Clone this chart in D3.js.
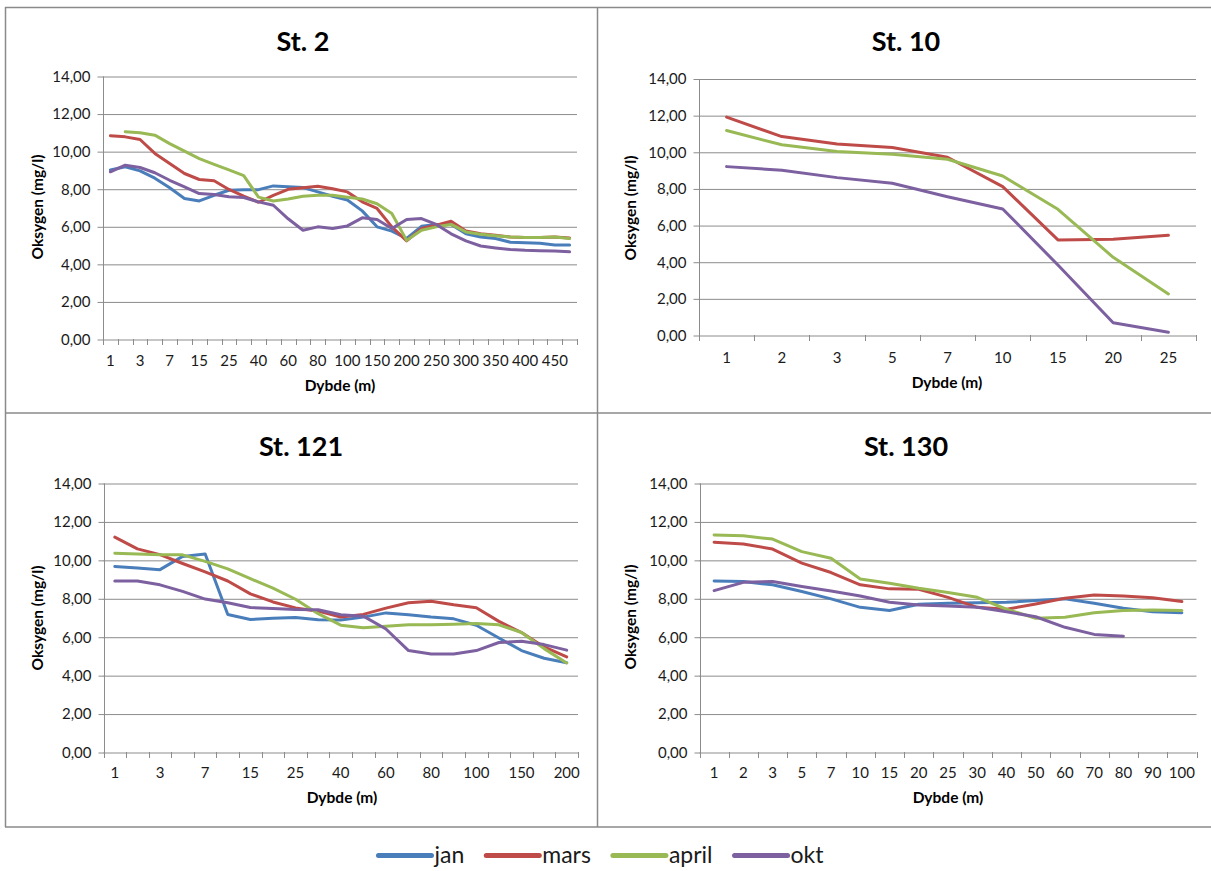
<!DOCTYPE html>
<html><head><meta charset="utf-8">
<script src="https://cdn.jsdelivr.net/npm/d3@7"></script>
<style>
body{margin:0;background:#fff}
svg{display:block}
text{font-family:Lato,"Open Sans",sans-serif}
</style>
</head><body>
<svg id="c" width="1211" height="871"></svg>
<script>
// ---------- data ----------
const seriesNames = ["jan", "mars", "april", "okt"];
const seriesColors = ["#4A7EBB", "#BE4B48", "#98B954", "#7D60A0"];
const yTickValues = [0, 2, 4, 6, 8, 10, 12, 14];

const st2Depths = ["1","2","3","5","7","10","15","20","25","30","40","50","60","70","80","90","100","125","150","175","200","225","250","275","300","325","350","375","400","425","450","475"];
const st2Jan   = [9.0, 9.17, 8.95, 8.56, 8.05, 7.48, 7.35, 7.65, 7.92, 7.95, 7.95, 8.15, 8.1, 8.06, 7.83, 7.6, 7.4, 6.82, 5.97, 5.74, 5.35, 6.0, 6.1, 6.1, 5.6, 5.43, 5.35, 5.15, 5.13, 5.1, 5.0, 5.0];
const st2Mars  = [10.82, 10.76, 10.62, 9.88, 9.34, 8.81, 8.49, 8.42, 7.96, 7.6, 7.28, 7.65, 7.97, 8.05, 8.13, 8.0, 7.83, 7.3, 6.95, 5.97, 5.22, 5.88, 6.06, 6.27, 5.75, 5.6, 5.52, 5.43, 5.4, 5.4, 5.43, 5.38];
const st2April = [null, 11.03, 10.98, 10.85, 10.4, 10.0, 9.6, 9.3, 9.0, 8.7, 7.55, 7.35, 7.45, 7.6, 7.65, 7.65, 7.55, 7.45, 7.2, 6.68, 5.25, 5.79, 5.97, 6.1, 5.7, 5.58, 5.5, 5.43, 5.4, 5.4, 5.43, 5.35];
const st2Okt   = [8.9, 9.25, 9.13, 8.85, 8.45, 8.1, 7.74, 7.69, 7.57, 7.53, 7.3, 7.12, 6.4, 5.79, 5.97, 5.88, 6.02, 6.45, 6.36, 5.88, 6.36, 6.41, 6.1, 5.6, 5.22, 4.95, 4.85, 4.76, 4.72, 4.7, 4.68, 4.64];

const st10Depths = ["1","2","3","5","7","10","15","20","25"];
const st10Mars  = [11.89, 10.83, 10.43, 10.23, 9.7, 8.1, 5.19, 5.22, 5.44];
const st10April = [11.16, 10.38, 10.01, 9.87, 9.59, 8.68, 6.86, 4.24, 2.24];
const st10Okt   = [9.19, 8.99, 8.59, 8.28, 7.55, 6.88, 3.82, 0.67, 0.15];

const st121Depths = ["1","2","3","5","7","10","15","20","25","30","40","50","60","70","80","90","100","125","150","175","200"];
const st121Jan   = [9.66, 9.58, 9.49, 10.18, 10.3, 7.16, 6.9, 6.96, 7.0, 6.88, 6.87, 7.02, 7.24, 7.14, 7.02, 6.93, 6.6, 5.93, 5.28, 4.88, 4.65];
const st121Mars  = [11.18, 10.57, 10.27, 9.81, 9.37, 8.9, 8.23, 7.81, 7.5, 7.33, 7.03, 7.16, 7.49, 7.77, 7.85, 7.66, 7.51, 6.8, 6.22, 5.47, 4.95];
const st121April = [10.34, 10.3, 10.26, 10.26, 9.92, 9.53, 9.02, 8.53, 7.95, 7.2, 6.6, 6.47, 6.55, 6.62, 6.62, 6.65, 6.69, 6.62, 6.22, 5.38, 4.63];
const st121Okt   = [8.9, 8.9, 8.7, 8.36, 7.96, 7.77, 7.52, 7.47, 7.42, 7.4, 7.14, 7.07, 6.4, 5.28, 5.1, 5.1, 5.28, 5.7, 5.76, 5.59, 5.3];

const st130Depths = ["1","2","3","5","7","10","15","20","25","30","40","50","60","70","80","90","100"];
const st130Jan   = [8.9, 8.87, 8.7, 8.35, 7.97, 7.53, 7.36, 7.69, 7.74, 7.77, 7.79, 7.88, 7.97, 7.74, 7.48, 7.3, 7.25];
const st130Mars  = [10.92, 10.83, 10.56, 9.83, 9.34, 8.7, 8.49, 8.47, 8.05, 7.53, 7.43, 7.7, 8.0, 8.17, 8.12, 8.03, 7.83];
const st130April = [11.3, 11.25, 11.08, 10.43, 10.08, 9.0, 8.78, 8.52, 8.3, 8.05, 7.43, 6.96, 7.01, 7.25, 7.36, 7.39, 7.36];
const st130Okt   = [8.4, 8.83, 8.87, 8.61, 8.38, 8.12, 7.79, 7.65, 7.6, 7.53, 7.3, 7.04, 6.49, 6.12, 6.03, null, null];

const yAxisTitle = "Oksygen (mg/l)";
const xAxisTitle = "Dybde (m)";

// ---------- layout ----------
const panels = [
  {title: "St. 2", depths: st2Depths, series: [st2Jan, st2Mars, st2April, st2Okt], every: 2,
   x0: 103, x1: 577, yTop: 76, yBot: 339, tX: 303, tY: 51, yLX: 38, yLY: 207, xLX: 340, xLY: 391, xTY: 366},
  {title: "St. 10", depths: st10Depths, series: [null, st10Mars, st10April, st10Okt], every: 1,
   x0: 699, x1: 1196, yTop: 78.5, yBot: 335, tX: 906, tY: 51, yLX: 631, yLY: 208, xLX: 947, xLY: 388, xTY: 363},
  {title: "St. 121", depths: st121Depths, series: [st121Jan, st121Mars, st121April, st121Okt], every: 2,
   x0: 103.5, x1: 578, yTop: 483, yBot: 752, tX: 301, tY: 456, yLX: 38, yLY: 618, xLX: 342, xLY: 803, xTY: 778},
  {title: "St. 130", depths: st130Depths, series: [st130Jan, st130Mars, st130April, st130Okt], every: 1,
   x0: 699.5, x1: 1196.5, yTop: 483, yBot: 752, tX: 906, tY: 456, yLX: 631, yLY: 617, xLX: 948, xLY: 803, xTY: 778}
];

const svg = d3.select("#c");
const gridColor = "#8c8c8c";
const fmt = d => d3.format(".2f")(d).replace(".", ",");

// panel borders
const borderColor = "#8a8a8a";
const borders = svg.append("g").attr("stroke", borderColor).attr("stroke-width", 1.5).attr("fill", "none");
borders.append("line").attr("x1", 5).attr("x2", 1211).attr("y1", 7.5).attr("y2", 7.5);
borders.append("line").attr("x1", 5).attr("x2", 1211).attr("y1", 413).attr("y2", 413);
borders.append("line").attr("x1", 5).attr("x2", 1211).attr("y1", 827).attr("y2", 827);
borders.append("line").attr("x1", 5.5).attr("x2", 5.5).attr("y1", 7).attr("y2", 827);
borders.append("line").attr("x1", 597.5).attr("x2", 597.5).attr("y1", 7).attr("y2", 827);

panels.forEach(p => {
  const g = svg.append("g");
  const x = d3.scaleBand().domain(p.depths).range([p.x0, p.x1]).padding(0);
  const y = d3.scaleLinear().domain([0, 14]).range([p.yBot, p.yTop]);

  // gridlines
  const grid = g.append("g").attr("transform", `translate(${p.x0},0.5)`)
    .call(d3.axisLeft(y).tickValues(yTickValues).tickSize(-(p.x1 - p.x0)).tickFormat(""));
  grid.select(".domain").remove();
  grid.selectAll("line").attr("stroke", gridColor).attr("stroke-width", 1);

  // y axis with outer ticks and labels
  const ya = g.append("g").attr("transform", `translate(${Math.round(p.x0) + 0.5},0.5)`)
    .call(d3.axisLeft(y).tickValues(yTickValues).tickSize(6).tickPadding(7).tickFormat(fmt));
  ya.select(".domain").attr("stroke", gridColor).attr("d", `M0,${p.yTop}V${p.yBot}`);
  ya.selectAll("line").attr("stroke", gridColor);
  ya.selectAll("text").attr("font-size", 15).attr("fill", "#1a1a1a").attr("font-family", "Lato");

  // x axis labels
  const xa = g.append("g").attr("transform", `translate(0,${p.yBot})`)
    .call(d3.axisBottom(x).tickSize(0).tickFormat((d, i) => i % p.every === 0 ? d : ""));
  xa.select(".domain").remove();
  xa.selectAll("text").attr("y", p.xTY - p.yBot).attr("dy", 0)
    .attr("font-size", 15).attr("fill", "#1a1a1a").attr("font-family", "Lato");

  // x tick marks at category boundaries
  const bounds = d3.range(p.depths.length + 1).map(i => x.range()[0] + i * x.step());
  g.append("g").selectAll("line").data(bounds).join("line")
    .attr("x1", d => Math.round(d) + 0.5).attr("x2", d => Math.round(d) + 0.5)
    .attr("y1", p.yBot).attr("y2", p.yBot + 6)
    .attr("stroke", gridColor).attr("stroke-width", 1);

  // series lines
  const line = d3.line()
    .defined(d => d.v != null)
    .x(d => x(d.k) + x.bandwidth() / 2)
    .y(d => y(d.v));
  p.series.forEach((s, si) => {
    if (!s) return;
    const pts = p.depths.map((k, i) => ({k, v: s[i]}));
    g.append("path").datum(pts).attr("d", line)
      .attr("fill", "none").attr("stroke", seriesColors[si])
      .attr("stroke-width", 3).attr("stroke-linejoin", "round").attr("stroke-linecap", "round");
  });

  // titles
  g.append("text").attr("x", p.tX).attr("y", p.tY).attr("text-anchor", "middle")
    .attr("font-size", 27).attr("font-weight", "bold").attr("fill", "#000").text(p.title);
  g.append("text").attr("transform", `translate(${p.yLX},${p.yLY}) rotate(-90)`)
    .attr("text-anchor", "middle").attr("dy", "0.35em")
    .attr("font-size", 15.5).attr("font-weight", "bold").attr("fill", "#000").text(yAxisTitle);
  g.append("text").attr("x", p.xLX).attr("y", p.xLY).attr("text-anchor", "middle")
    .attr("font-size", 15.5).attr("font-weight", "bold").attr("fill", "#000").text(xAxisTitle);
});

// legend
const lg = svg.append("g");
const lineLen = 53, gapTxt = 3, gapItem = 22, legY = 855.5;
const items = seriesNames.map((n, i) => {
  const it = lg.append("g");
  it.append("line").attr("x1", 0).attr("x2", lineLen).attr("y1", 0).attr("y2", 0)
    .attr("stroke", seriesColors[i]).attr("stroke-width", 5).attr("stroke-linecap", "round");
  const t = it.append("text").attr("x", lineLen + gapTxt).attr("y", 0).attr("dy", "0.32em")
    .attr("font-size", 23).attr("fill", "#1a1a1a").text(n);
  return {it, w: lineLen + gapTxt + t.node().getComputedTextLength()};
});
const total = d3.sum(items, d => d.w) + gapItem * (items.length - 1);
let cx = 601 - total / 2;
items.forEach(d => { d.it.attr("transform", `translate(${cx},${legY})`); cx += d.w + gapItem; });
</script>
</body></html>
